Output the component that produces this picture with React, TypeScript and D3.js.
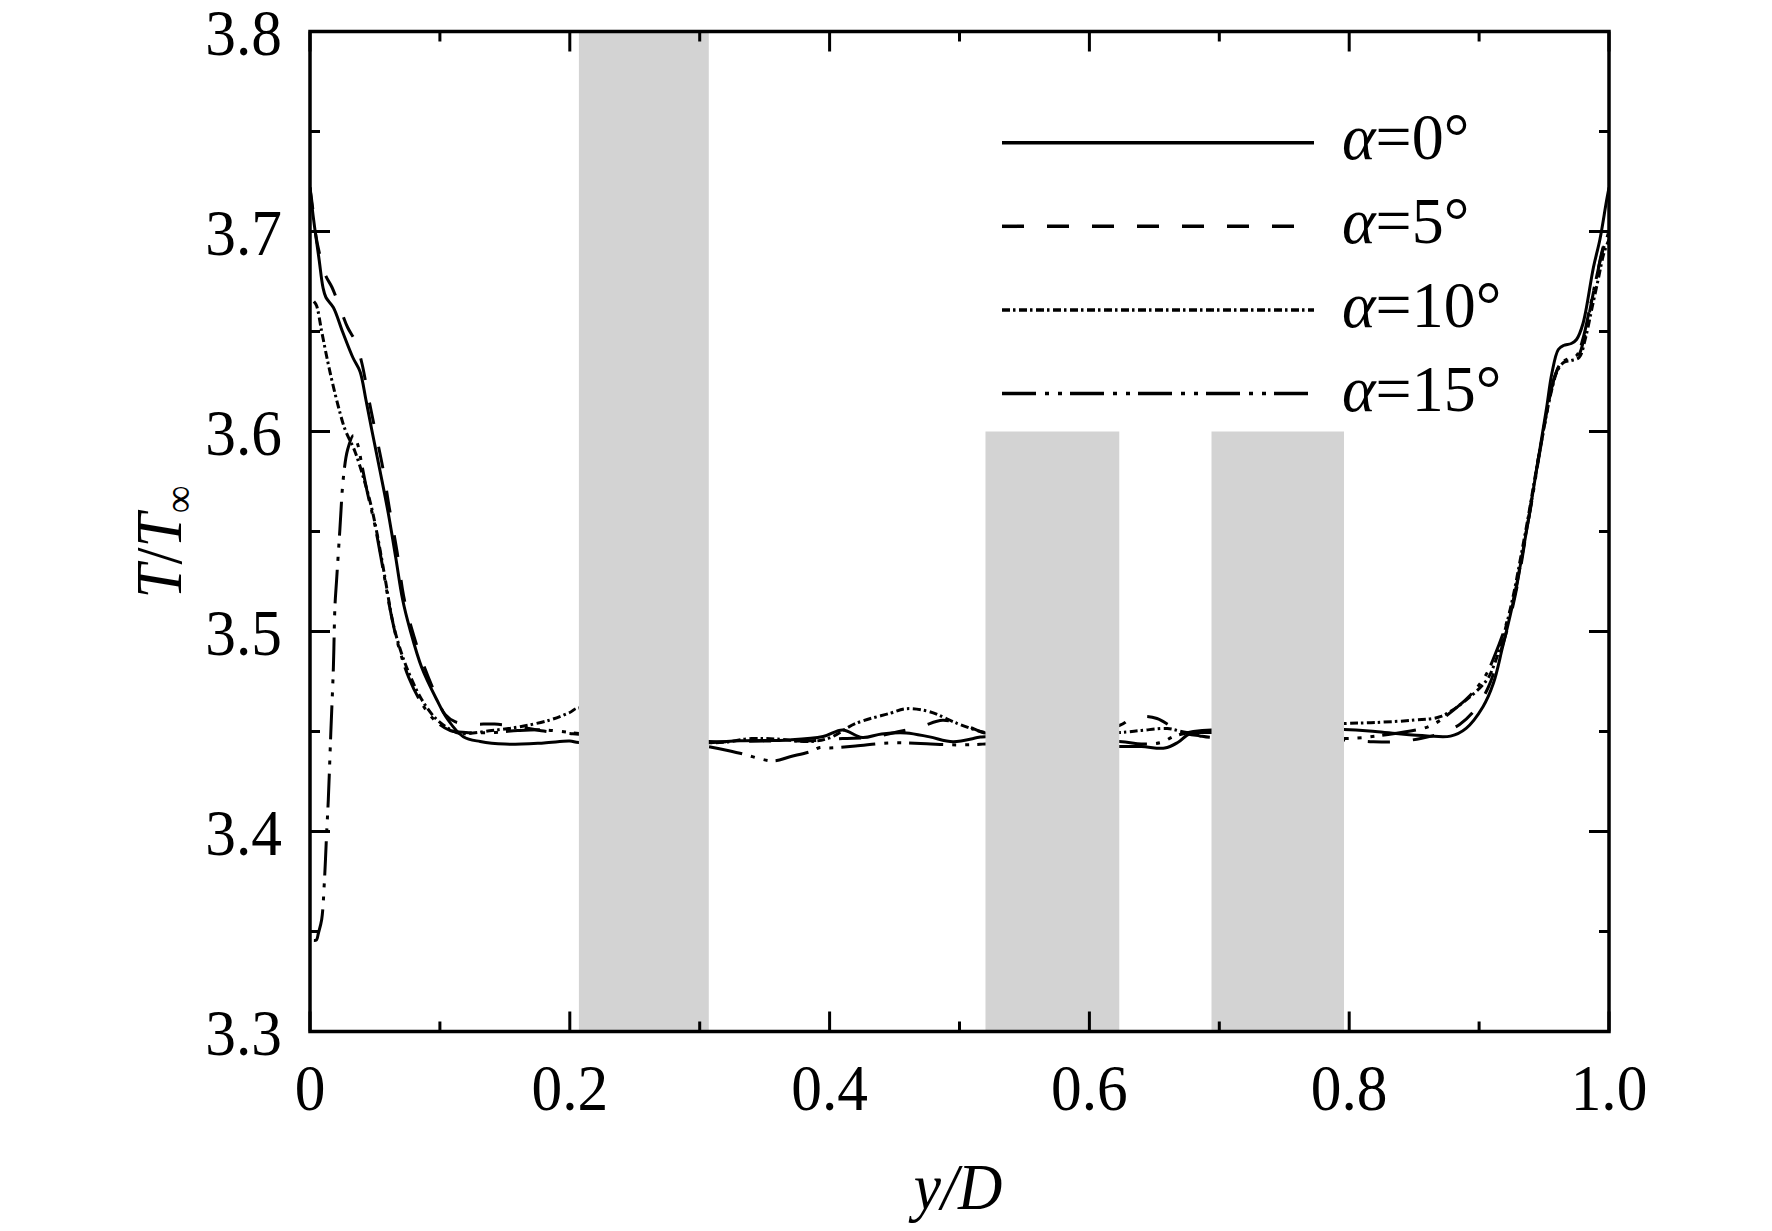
import React from "react";
import * as d3 from "d3";

const W = 1772;
const H = 1231;

const xTicksMajor = [0, 0.2, 0.4, 0.6, 0.8, 1.0];
const xTickLabels = ["0", "0.2", "0.4", "0.6", "0.8", "1.0"];
const xTicksMinor = [0.1, 0.3, 0.5, 0.7, 0.9];
const yTicksMajor = [3.3, 3.4, 3.5, 3.6, 3.7, 3.8];
const yTickLabels = ["3.3", "3.4", "3.5", "3.6", "3.7", "3.8"];
const yTicksMinor = [3.35, 3.45, 3.55, 3.65, 3.75];

// gray bands: [x0, x1, yTop]
const bands: [number, number, number][] = [
  [0.207, 0.307, 3.8],
  [0.52, 0.623, 3.6],
  [0.694, 0.796, 3.6],
];

const legendNames = ["0°", "5°", "10°", "15°"];

const alpha0: [number, number][] = [
  [0.0, 3.722], [0.002, 3.71], [0.004, 3.7], [0.007, 3.686], [0.01, 3.672],
  [0.0123, 3.667], [0.018, 3.662], [0.025, 3.65], [0.033, 3.637], [0.0385, 3.63],
  [0.043, 3.616], [0.0475, 3.601], [0.054, 3.58], [0.0603, 3.559], [0.066, 3.537],
  [0.0713, 3.516], [0.077, 3.501], [0.086, 3.482], [0.0975, 3.466], [0.106, 3.456],
  [0.118, 3.4474], [0.131, 3.445], [0.15, 3.4437], [0.18, 3.4443], [0.2, 3.4452],
  [0.207, 3.4445], [0.307, 3.4444], [0.331, 3.4454], [0.37, 3.4458], [0.395, 3.4475],
  [0.41, 3.4508], [0.425, 3.447], [0.44, 3.4488], [0.459, 3.4493], [0.477, 3.4473],
  [0.495, 3.4449], [0.516, 3.4472], [0.52, 3.4474], [0.623, 3.4425], [0.64, 3.4425],
  [0.658, 3.4417], [0.668, 3.4445], [0.6775, 3.449], [0.694, 3.4495], [0.796, 3.451],
  [0.82, 3.45], [0.84, 3.4487], [0.86, 3.4478], [0.878, 3.4477], [0.89, 3.4516],
  [0.903, 3.4624], [0.911, 3.4741], [0.918, 3.492], [0.926, 3.514], [0.932, 3.534],
  [0.938, 3.556], [0.943, 3.576], [0.948, 3.596], [0.952, 3.612], [0.956, 3.629],
  [0.961, 3.641], [0.965, 3.643], [0.971, 3.644], [0.975, 3.646], [0.98, 3.654],
  [0.988, 3.682], [0.993, 3.696], [0.998, 3.715], [1.0, 3.722],
];

const alpha5: [number, number][] = [
  [0.0, 3.722], [0.002, 3.712], [0.004, 3.7], [0.008, 3.687], [0.012, 3.678],
  [0.017, 3.672], [0.023, 3.662], [0.029, 3.652], [0.035, 3.645], [0.04, 3.634],
  [0.045, 3.617], [0.05, 3.601], [0.056, 3.582], [0.061, 3.562], [0.067, 3.54],
  [0.072, 3.518], [0.078, 3.502], [0.087, 3.484], [0.097, 3.468], [0.104, 3.4585],
  [0.112, 3.4548], [0.125, 3.4537], [0.142, 3.4537], [0.16, 3.4525], [0.18, 3.4502],
  [0.2, 3.449], [0.207, 3.4486], [0.307, 3.445], [0.35, 3.4452], [0.39, 3.4455],
  [0.41, 3.4465], [0.43, 3.447], [0.447, 3.449], [0.47, 3.4524], [0.487, 3.4556],
  [0.503, 3.4533], [0.516, 3.45], [0.52, 3.4492], [0.623, 3.453], [0.632, 3.4565],
  [0.642, 3.4575], [0.652, 3.4565], [0.662, 3.453], [0.672, 3.4495], [0.685, 3.4478],
  [0.694, 3.447], [0.796, 3.4458], [0.818, 3.4449], [0.837, 3.4449], [0.855, 3.4465],
  [0.87, 3.449], [0.885, 3.4535], [0.897, 3.461], [0.907, 3.472], [0.915, 3.487],
  [0.922, 3.502], [0.93, 3.525], [0.936, 3.548], [0.941, 3.568], [0.946, 3.588],
  [0.951, 3.606], [0.955, 3.619], [0.959, 3.629], [0.964, 3.635], [0.97, 3.636],
  [0.976, 3.6375], [0.981, 3.647], [0.986, 3.663], [0.991, 3.679], [0.995, 3.691],
  [1.0, 3.701],
];

const alpha10: [number, number][] = [
  [0.003, 3.665], [0.005, 3.663], [0.009, 3.65], [0.013, 3.637], [0.0167, 3.626],
  [0.022, 3.612], [0.027, 3.601], [0.0346, 3.59], [0.042, 3.575], [0.047, 3.563],
  [0.0513, 3.55], [0.0577, 3.527], [0.063, 3.507], [0.0667, 3.497], [0.0744, 3.482],
  [0.086, 3.466], [0.0975, 3.456], [0.108, 3.451], [0.1155, 3.449], [0.14, 3.4505],
  [0.1617, 3.4524], [0.185, 3.4558], [0.2, 3.4595], [0.207, 3.4618], [0.307, 3.4445],
  [0.34, 3.4465], [0.36, 3.4462], [0.385, 3.445], [0.4, 3.4468], [0.42, 3.454],
  [0.4465, 3.4591], [0.459, 3.4614], [0.477, 3.4599], [0.498, 3.4541], [0.516, 3.45],
  [0.52, 3.4495], [0.623, 3.4495], [0.64, 3.4505], [0.66, 3.4515], [0.675, 3.4495],
  [0.694, 3.45], [0.796, 3.454], [0.82, 3.4545], [0.85, 3.4557], [0.87, 3.4574],
  [0.89, 3.4657], [0.906, 3.4758], [0.911, 3.4824], [0.918, 3.496], [0.926, 3.517],
  [0.932, 3.537], [0.938, 3.558], [0.943, 3.577], [0.948, 3.595], [0.952, 3.609],
  [0.956, 3.621], [0.96, 3.63], [0.965, 3.6345], [0.971, 3.6355], [0.977, 3.637],
  [0.982, 3.647], [0.987, 3.662], [0.992, 3.677], [0.996, 3.689], [1.0, 3.696],
];

const alpha15: [number, number][] = [
  [0.003, 3.3455], [0.005, 3.3458], [0.0064, 3.349], [0.009, 3.356], [0.011, 3.374],
  [0.0128, 3.399], [0.0141, 3.416], [0.016, 3.449], [0.018, 3.482], [0.0192, 3.5125],
  [0.0205, 3.526], [0.023, 3.551], [0.0257, 3.577], [0.029, 3.591], [0.0334, 3.598],
  [0.0365, 3.594], [0.04, 3.583], [0.044, 3.57], [0.05, 3.553], [0.056, 3.532],
  [0.062, 3.51], [0.068, 3.493], [0.076, 3.477], [0.086, 3.464], [0.097, 3.455],
  [0.108, 3.4505], [0.12, 3.4495], [0.14, 3.4495], [0.16, 3.4505], [0.18, 3.4508],
  [0.2, 3.4495], [0.207, 3.449], [0.307, 3.4424], [0.331, 3.4391], [0.3567, 3.4353],
  [0.3695, 3.4374], [0.385, 3.4399], [0.3926, 3.442], [0.4, 3.4418], [0.42, 3.4428],
  [0.4465, 3.4443], [0.47, 3.444], [0.498, 3.4433], [0.516, 3.4436], [0.52, 3.4438],
  [0.623, 3.445], [0.64, 3.4438], [0.655, 3.4445], [0.665, 3.4475], [0.68, 3.45],
  [0.694, 3.4508], [0.796, 3.4465], [0.83, 3.4485], [0.857, 3.4516], [0.866, 3.454],
  [0.875, 3.458], [0.893, 3.468], [0.905, 3.478], [0.912, 3.488], [0.92, 3.502],
  [0.928, 3.52], [0.934, 3.542], [0.94, 3.563], [0.945, 3.583], [0.95, 3.602],
  [0.954, 3.616], [0.958, 3.627], [0.963, 3.634], [0.969, 3.6365], [0.975, 3.638],
  [0.98, 3.6465], [0.985, 3.661], [0.99, 3.676], [0.995, 3.69], [1.0, 3.7],
];

const seriesList = [alpha0, alpha5, alpha10, alpha15];
const dashes = ["none", "22,23", "8,3,2.5,3.5", "34,9,4,9,4,8"];

const FONT = "'Liberation Serif', 'Times New Roman', serif";

export default function App() {
  const left = 310;
  const right = 1609;
  const top = 31.5;
  const bottom = 1031.5;
  const x = d3.scaleLinear().domain([0, 1]).range([left, right]);
  const y = d3.scaleLinear().domain([3.3, 3.8]).range([bottom, top]);
  const line = d3
    .line<[number, number]>()
    .x((d) => x(d[0]))
    .y((d) => y(d[1]))
    .curve(d3.curveCatmullRom.alpha(0.5));

  const axisW = 3.5;
  const tickW = 3;
  const major = 20;
  const minor = 10;
  const sx = 0.93;

  const legendX0 = 1002;
  const legendX1 = 1314;
  const legendLineY = (i: number) => 142.7 + i * 83.6;
  const legendTextY = (i: number) => 159 + i * 84;

  return (
    <svg
      width={W}
      height={H}
      style={{ position: "absolute", left: 0, top: 0, background: "#fff" }}
      fontFamily={FONT}
    >
      <rect x={0} y={0} width={W} height={H} fill="#fff" />
      <defs>
        <clipPath id="plotclip">
          <rect x={left} y={top} width={right - left} height={bottom - top} />
        </clipPath>
      </defs>

      <g clipPath="url(#plotclip)">
        {seriesList.map((s, i) => (
          <path
            key={i}
            d={line(s) || ""}
            fill="none"
            stroke="#000"
            strokeWidth={3}
            strokeDasharray={dashes[i]}
            strokeLinejoin="round"
          />
        ))}
      </g>

      {bands.map((b, i) => (
        <rect
          key={i}
          x={x(b[0])}
          y={y(b[2])}
          width={x(b[1]) - x(b[0])}
          height={y(3.3) - y(b[2])}
          fill="#d3d3d3"
        />
      ))}

      {/* ticks */}
      <g stroke="#000" strokeWidth={tickW}>
        {xTicksMajor.map((t) => (
          <g key={"xM" + t}>
            <line x1={x(t)} x2={x(t)} y1={bottom} y2={bottom - major} />
            <line x1={x(t)} x2={x(t)} y1={top} y2={top + major} />
          </g>
        ))}
        {xTicksMinor.map((t) => (
          <g key={"xm" + t}>
            <line x1={x(t)} x2={x(t)} y1={bottom} y2={bottom - minor} />
            <line x1={x(t)} x2={x(t)} y1={top} y2={top + minor} />
          </g>
        ))}
        {yTicksMajor.map((t) => (
          <g key={"yM" + t}>
            <line x1={left} x2={left + major} y1={y(t)} y2={y(t)} />
            <line x1={right} x2={right - major} y1={y(t)} y2={y(t)} />
          </g>
        ))}
        {yTicksMinor.map((t) => (
          <g key={"ym" + t}>
            <line x1={left} x2={left + minor} y1={y(t)} y2={y(t)} />
            <line x1={right} x2={right - minor} y1={y(t)} y2={y(t)} />
          </g>
        ))}
      </g>

      <rect
        x={left}
        y={top}
        width={right - left}
        height={bottom - top}
        fill="none"
        stroke="#000"
        strokeWidth={axisW}
      />

      {/* tick labels */}
      {xTicksMajor.map((t, i) => (
        <text
          key={"xl" + t}
          transform={`translate(${x(t)},1110) scale(${sx},1)`}
          textAnchor="middle"
          fontSize={66}
          fill="#000"
        >
          {xTickLabels[i]}
        </text>
      ))}
      {yTicksMajor.map((t, i) => (
        <text
          key={"yl" + t}
          transform={`translate(282,${y(t) + 23}) scale(${sx},1)`}
          textAnchor="end"
          fontSize={66}
          fill="#000"
        >
          {yTickLabels[i]}
        </text>
      ))}

      {/* axis titles */}
      <text
        transform={`translate(958,1209) scale(${sx},1)`}
        textAnchor="middle"
        fontSize={66}
        fontStyle="italic"
        fill="#000"
      >
        y/D
      </text>
      <text
        transform={`translate(181,542) rotate(-90) scale(${sx},1)`}
        textAnchor="middle"
        fontSize={66}
        fill="#000"
      >
        <tspan fontStyle="italic">T</tspan>
        <tspan>/</tspan>
        <tspan fontStyle="italic">T</tspan>
        <tspan fontSize={42} dy={12}>∞</tspan>
      </text>

      {/* legend */}
      {legendNames.map((n, i) => (
        <g key={"lg" + i}>
          <line
            x1={legendX0}
            x2={legendX1}
            y1={legendLineY(i)}
            y2={legendLineY(i)}
            stroke="#000"
            strokeWidth={3.5}
            strokeDasharray={dashes[i]}
          />
          <text
            transform={`translate(1342,${legendTextY(i)}) scale(0.97,1)`}
            fontSize={66}
            fill="#000"
          >
            <tspan fontStyle="italic">α</tspan>
            <tspan>={n}</tspan>
          </text>
        </g>
      ))}
    </svg>
  );
}
